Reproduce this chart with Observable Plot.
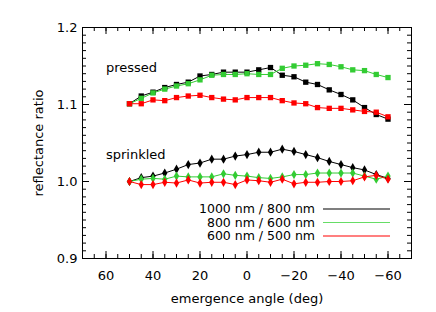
<!DOCTYPE html>
<html>
<head>
<meta charset="utf-8">
<script src="https://cdn.jsdelivr.net/npm/d3@7"></script>
<script src="https://cdn.jsdelivr.net/npm/@observablehq/plot@0.6"></script>
<style>
  html, body { margin: 0; padding: 0; background: white; }
</style>
</head>
<body>
<div id="chart"></div>
<script>
// emergence angles (deg)
const angles = [50,45,40,35,30,25,20,15,10,5,0,-5,-10,-15,-20,-25,-30,-35,-40,-45,-50,-55,-60];

// series names and colours
const seriesNames = ["1000 nm / 800 nm", "800 nm / 600 nm", "600 nm / 500 nm"];
const seriesColors = ["#000000", "#33cc33", "#ff0000"];
const legendColors = ["#000000", "#66dd66", "#ff0000"];

// pressed sample
const pressed1000_800 = [1.101,1.111,1.116,1.122,1.126,1.129,1.137,1.139,1.142,1.142,1.142,1.145,1.148,1.138,1.136,1.129,1.126,1.119,1.113,1.106,1.096,1.087,1.081];
const pressed800_600  = [1.101,1.108,1.115,1.120,1.124,1.127,1.132,1.138,1.139,1.139,1.140,1.139,1.139,1.147,1.150,1.151,1.153,1.152,1.149,1.145,1.144,1.139,1.135];
const pressed600_500  = [1.101,1.101,1.106,1.105,1.109,1.111,1.112,1.109,1.107,1.106,1.109,1.109,1.109,1.105,1.102,1.101,1.096,1.095,1.095,1.093,1.091,1.090,1.084];

// sprinkled sample
const sprinkled1000_800 = [1.000,1.005,1.007,1.011,1.016,1.022,1.024,1.029,1.029,1.033,1.035,1.038,1.038,1.042,1.039,1.035,1.031,1.026,1.022,1.018,1.015,1.009,1.004];
const sprinkled800_600  = [1.000,1.003,1.004,1.003,1.007,1.006,1.006,1.006,1.010,1.008,1.007,1.005,1.004,1.006,1.009,1.009,1.011,1.011,1.011,1.011,1.007,1.003,1.007];
const sprinkled600_500  = [1.000,0.996,0.996,0.999,0.998,1.002,0.998,0.999,0.999,0.996,1.002,1.001,0.999,1.003,0.997,0.999,0.999,1.000,1.000,1.001,1.006,1.008,1.003];

// axis ticks
const xTicks = [60,40,20,0,-20,-40,-60];
const xMinorTicks = d3.range(70, -70.1, -5);
const yTicks = [0.9,1.0,1.1,1.2];
const yMinorTicks = d3.range(0, 31).map(i => +(0.9 + i * 0.01).toFixed(2));

// annotation labels (data units)
const annotations = [
  {label: "pressed", x: 60, y: 1.147},
  {label: "sprinkled", x: 60, y: 1.034}
];

const pressedSeries = [pressed1000_800, pressed800_600, pressed600_500];
const sprinkledSeries = [sprinkled1000_800, sprinkled800_600, sprinkled600_500];

const rows = [];
pressedSeries.forEach((vals, s) => vals.forEach((v, i) => rows.push({sample: "pressed", series: seriesNames[s], color: seriesColors[s], angle: angles[i], value: v})));
sprinkledSeries.forEach((vals, s) => vals.forEach((v, i) => rows.push({sample: "sprinkled", series: seriesNames[s], color: seriesColors[s], angle: angles[i], value: v})));
const pressedRows = rows.filter(d => d.sample === "pressed");
const sprinkledRows = rows.filter(d => d.sample === "sprinkled");

const W = 436, H = 312, ML = 82, MR = 25, MT = 27, MB = 54;
const innerW = W - ML - MR, innerH = H - MT - MB;
const minorLen = 4, majorLen = 7;
const fmtX = d => d < 0 ? "\u2212" + (-d) : String(d);

function legendMark(index, scales, values, dimensions) {
  const g = d3.create("svg:g");
  const right = dimensions.width - dimensions.marginRight;
  const bottom = dimensions.height - dimensions.marginBottom;
  const rowY = [bottom - 49, bottom - 35.5, bottom - 22];
  seriesNames.forEach((name, i) => {
    g.append("text")
      .attr("x", right - 96)
      .attr("y", rowY[i])
      .attr("dy", "0.35em")
      .attr("text-anchor", "end")
      .attr("fill", "black")
      .attr("font-size", 12.5)
      .text(name);
    g.append("line")
      .attr("x1", right - 88)
      .attr("x2", right - 21)
      .attr("y1", rowY[i])
      .attr("y2", rowY[i])
      .attr("stroke", legendColors[i])
      .attr("stroke-width", 1.2);
  });
  return g.node();
}

const chart = Plot.plot({
  width: W, height: H,
  marginLeft: ML, marginRight: MR, marginTop: MT, marginBottom: MB,
  style: {fontFamily: "DejaVu Sans", fontSize: "13px", color: "black", background: "white"},
  x: {domain: [70, -70]},
  y: {domain: [0.9, 1.2]},
  marks: [
    // inward ticks on all sides
    Plot.tickX(xMinorTicks, {x: d => d, insetTop: innerH - minorLen, stroke: "black"}),
    Plot.tickX(xMinorTicks, {x: d => d, insetBottom: innerH - minorLen, stroke: "black"}),
    Plot.tickX(xTicks, {x: d => d, insetTop: innerH - majorLen, stroke: "black"}),
    Plot.tickX(xTicks, {x: d => d, insetBottom: innerH - majorLen, stroke: "black"}),
    Plot.tickY(yMinorTicks, {y: d => d, insetRight: innerW - minorLen, stroke: "black"}),
    Plot.tickY(yMinorTicks, {y: d => d, insetLeft: innerW - minorLen, stroke: "black"}),
    Plot.tickY(yTicks, {y: d => d, insetRight: innerW - majorLen, stroke: "black"}),
    Plot.tickY(yTicks, {y: d => d, insetLeft: innerW - majorLen, stroke: "black"}),
    Plot.frame({stroke: "black"}),
    Plot.axisX({ticks: xTicks, tickSize: 0, tickPadding: 12, tickFormat: fmtX, fontSize: 13,
      label: "emergence angle (deg)", labelAnchor: "center", labelOffset: 44, labelArrow: "none"}),
    Plot.axisY({ticks: yTicks, tickSize: 0, tickPadding: 5, tickFormat: d3.format(".1f"), fontSize: 13,
      label: "reflectance ratio", labelAnchor: "center", labelOffset: 49, labelArrow: "none"}),
    // data lines
    Plot.line(pressedRows, {x: "angle", y: "value", z: "series", stroke: "color", strokeWidth: 1}),
    Plot.line(sprinkledRows, {x: "angle", y: "value", z: "series", stroke: "color", strokeWidth: 1}),
    Plot.dot(pressedRows, {x: "angle", y: "value", fill: "color", symbol: "square", r: 3}),
    Plot.dot(sprinkledRows, {x: "angle", y: "value", fill: "color", symbol: "diamond", r: 2.8}),
    Plot.text(annotations, {x: "x", y: "y", text: "label", textAnchor: "start", fontSize: 13, fill: "black"}),
    legendMark
  ]
});

document.getElementById("chart").append(chart);
</script>
</body>
</html>
